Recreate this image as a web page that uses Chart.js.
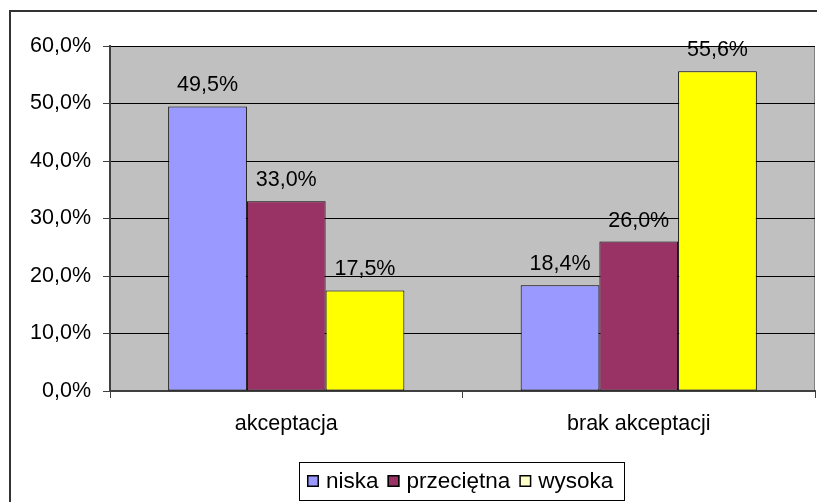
<!DOCTYPE html>
<html>
<head>
<meta charset="utf-8">
<script src="https://cdn.jsdelivr.net/npm/chart.js@4/dist/chart.umd.min.js"></script>
<style>
html,body{margin:0;padding:0;background:#fff;}
#wrap{width:817px;height:502px;position:relative;}
</style>
</head>
<body>
<div id="wrap"><canvas id="c" width="817" height="502"></canvas></div>
<script>
const categories = ['akceptacja', 'brak akceptacji'];
const seriesNames = ['niska', 'przeciętna', 'wysoka'];
const niska = [49.5, 18.4];
const przecietna = [33.0, 26.0];
const wysoka = [17.5, 55.6];
const seriesColors = ['#9999FF', '#993366', '#FFFF00'];
const legendSwatchColors = ['#9999FF', '#993366', '#FFFFC8'];
const yMax = 60;
const yStep = 10;

const FONT = "'Liberation Sans', Arial, sans-serif";
const FS = 21.5;
const LFS = 22.5;
const fmt = v => v.toFixed(1).replace('.', ',') + '%';

const bgPlugin = {
  id: 'bg',
  beforeDraw(chart) {
    const ctx = chart.ctx, a = chart.chartArea;
    ctx.save();
    ctx.fillStyle = '#fff';
    ctx.fillRect(0, 0, chart.width, chart.height);
    ctx.strokeStyle = '#333';
    ctx.lineWidth = 2;
    ctx.strokeRect(10, 11, 900, 600);
    ctx.fillStyle = '#C0C0C0';
    ctx.fillRect(a.left, a.top, a.right - a.left, a.bottom - a.top);
    ctx.strokeStyle = '#808080';
    ctx.lineWidth = 1;
    ctx.strokeRect(a.left + 0.5, a.top + 0.5, a.right - a.left - 1, a.bottom - a.top);
    ctx.restore();
  },
  afterDatasetsDraw(chart) {
    const ctx = chart.ctx;
    ctx.save();
    ctx.font = FS + 'px ' + FONT;
    ctx.fillStyle = '#000';
    ctx.textAlign = 'center';
    ctx.textBaseline = 'alphabetic';
    chart.data.datasets.forEach((ds, i) => {
      chart.getDatasetMeta(i).data.forEach((bar, j) => {
        ctx.fillText(fmt(ds.data[j]), bar.x, bar.y - 15);
      });
    });
    ctx.restore();
  },
  afterDraw(chart) {
    const ctx = chart.ctx;
    ctx.save();
    ctx.font = LFS + 'px ' + FONT;
    ctx.strokeStyle = '#000';
    ctx.lineWidth = 1;
    ctx.strokeRect(299.5, 462.5, 325, 38);
    let x = 307;
    const cy = 481;
    ctx.textBaseline = 'middle';
    ctx.textAlign = 'left';
    chart.data.datasets.forEach((ds, i) => {
      ctx.fillStyle = legendSwatchColors[i];
      ctx.fillRect(x, cy - 6, 12, 12);
      ctx.lineWidth = 1.5;
      ctx.strokeStyle = '#000';
      ctx.strokeRect(x + 0.75, cy - 5.25, 10.5, 10.5);
      x += 12 + 7;
      ctx.fillStyle = '#000';
      ctx.fillText(ds.label, x, cy + 1);
      x += ctx.measureText(ds.label).width + 9;
    });
    ctx.restore();
  }
};

new Chart(document.getElementById('c'), {
  type: 'bar',
  data: {
    labels: categories,
    datasets: [
      { label: seriesNames[0], data: niska, backgroundColor: seriesColors[0] },
      { label: seriesNames[1], data: przecietna, backgroundColor: seriesColors[1] },
      { label: seriesNames[2], data: wysoka, backgroundColor: seriesColors[2] }
    ].map(d => Object.assign(d, { borderColor: '#000', borderWidth: 1, borderSkipped: false,
      categoryPercentage: 0.67, barPercentage: 1 }))
  },
  options: {
    responsive: false,
    animation: false,
    devicePixelRatio: 1,
    layout: { padding: { left: 0, right: 2, top: 46, bottom: 0 } },
    plugins: {
      tooltip: { enabled: false },
      legend: { display: false }
    },
    scales: {
      x: {
        grid: { offset: true, drawOnChartArea: false, tickLength: 7, tickColor: '#404040', lineWidth: 1 },
        border: { color: '#404040', width: 2 },
        ticks: { font: { family: FONT, size: FS }, color: '#000', padding: 13, maxRotation: 0 },
        afterFit(scale) { scale.height = 502 - 391; }
      },
      y: {
        min: 0, max: yMax,
        grid: { color: '#000', lineWidth: 1, tickLength: 7, tickColor: '#404040' },
        border: { color: '#404040', width: 2 },
        ticks: { stepSize: yStep, font: { family: FONT, size: FS }, color: '#000', padding: 12,
          callback: v => fmt(v) },
        afterFit(scale) { scale.width = 110; }
      }
    }
  },
  plugins: [bgPlugin]
});
</script>
</body>
</html>
